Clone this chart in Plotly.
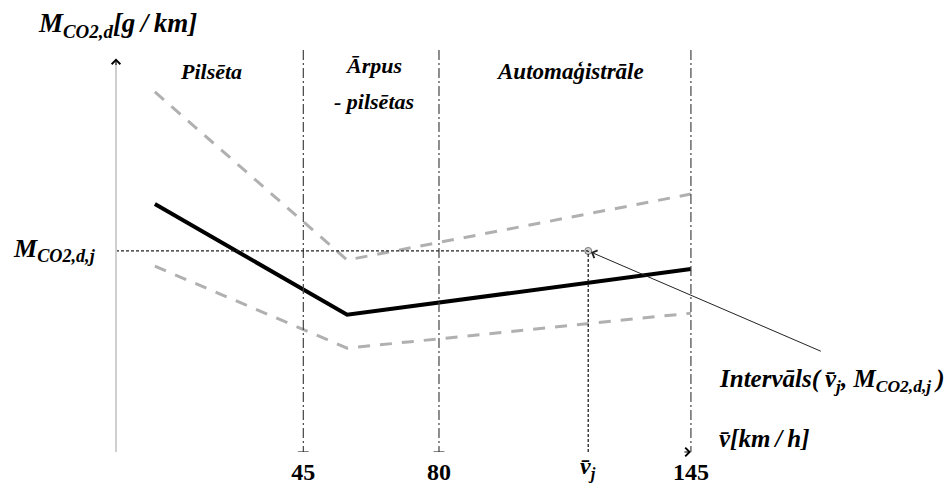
import plotly.graph_objects as go

# --- schematic data -------------------------------------------------------
# speed breakpoints [km/h] and emission levels [g/km, schematic units]
zone_bounds = [45, 80, 145]
speed_nodes = [6.7, 56.3, 145]
mean_curve = [60.2, 33.3, 44.4]
upper_curve = [87.4, 46.6, 62.6]
lower_curve = [45.1, 25.2, 33.7]

# interval point (v_j, M_CO2,d,j)
v_j = 118.5
m_j = 48.8

tick_vals = [45, 80, 145]
tick_text = ["<b>45</b>", "<b>80</b>", "<b>145</b>"]
v_j_label = "<b><i>v̄<sub>j</sub></i></b>"

zone_names = ["Pilsēta", "Ārpus", "- pilsētas", "Automaģistrāle"]

# --- layout geometry -------------------------------------------------------
W, H = 949, 486
L, R, T, B = 116, 229, 40, 34
X_RANGE = [-3.33, 152.5]
Y_RANGE = [0, 100]
FONT = "Liberation Serif"
TS = "\u2009"  # thin space


def px(xp, yp):
    """pixel position -> paper coordinates"""
    pw, ph = W - L - R, H - T - B
    return (xp - L) / pw, (H - B - yp) / ph


fig = go.Figure()

# envelope curves (grey dashed)
for curve in (upper_curve, lower_curve):
    fig.add_trace(go.Scatter(
        x=speed_nodes, y=curve, mode="lines",
        line=dict(color="#b0b0b0", width=3, dash="12px,10px"),
        hoverinfo="skip", showlegend=False))

# mean curve (solid black)
fig.add_trace(go.Scatter(
    x=speed_nodes, y=mean_curve, mode="lines",
    line=dict(color="black", width=4),
    hoverinfo="skip", showlegend=False))

# zone boundaries (dash-dot)
for vb in zone_bounds:
    fig.add_shape(type="line", x0=vb, x1=vb, y0=-1, y1=98, xref="x", yref="y",
                  line=dict(color="#444", width=1.2, dash="10px,3px,2px,3px"))

# small cross ticks at 45 and 80
for vb in zone_bounds[:2]:
    fig.add_shape(type="line", x0=vb - 1.4, x1=vb + 1.4, y0=0, y1=0,
                  xref="x", yref="y", line=dict(color="#333", width=1.2))

# reference lines to the interval point
fig.add_shape(type="line", x0=X_RANGE[0], x1=v_j, y0=m_j, y1=m_j,
              xref="x", yref="y",
              line=dict(color="#222", width=1.3, dash="3px,2px"))
fig.add_shape(type="line", x0=v_j, x1=v_j, y0=0, y1=m_j,
              xref="x", yref="y",
              line=dict(color="#222", width=1.3, dash="3px,2px"))
fig.add_trace(go.Scatter(
    x=[v_j], y=[m_j], mode="markers",
    marker=dict(size=7, color="#d0d0d0", line=dict(color="#777", width=1)),
    hoverinfo="skip", showlegend=False))

# vertical axis line (light grey) with arrow tip
fig.add_shape(type="line", x0=0, x1=0, y0=0, y1=0.94, xref="paper", yref="paper",
              line=dict(color="#cfcfcf", width=2))

annotations = []
# y axis arrow
annotations.append(dict(x=0, y=0.955, xref="paper", yref="paper",
                        ax=0, ay=8, showarrow=True, arrowhead=4, arrowsize=1.4,
                        arrowwidth=1.2, arrowcolor="black", text=""))
# x axis arrow at 145
annotations.append(dict(x=145, y=0, xref="x", yref="y", ax=-8, ay=0,
                        showarrow=True, arrowhead=4, arrowsize=1.4,
                        arrowwidth=1.2, arrowcolor="black", text=""))
# pointer to the interval point
annotations.append(dict(x=v_j, y=m_j, xref="x", yref="y",
                        ax=178.9, ay=24.3, axref="x", ayref="y",
                        showarrow=True, arrowhead=4, arrowsize=1.6,
                        arrowwidth=1, arrowcolor="#222", standoff=3, text=""))
# v_j label under its reference line
annotations.append(dict(x=v_j, y=px(0, 468)[1], xref="x", yref="paper",
                        text=v_j_label, showarrow=False,
                        xanchor="center", yanchor="middle",
                        font=dict(family=FONT, size=24, color="black")))


def label(text, xp, yp, size=21, xanchor="center", yanchor="middle"):
    x, y = px(xp, yp)
    annotations.append(dict(x=x, y=y, xref="paper", yref="paper", text=text,
                            showarrow=False, xanchor=xanchor, yanchor=yanchor,
                            font=dict(family=FONT, size=size, color="black")))


label(f"<b><i>M<sub>CO2,d</sub>[g{TS}/{TS}km]</i></b>", 36, 25, size=27, xanchor="left")
label(f"<b><i>{zone_names[0]}</i></b>", 211, 72, size=22)
label(f"<b><i>{zone_names[1]}</i></b>", 373, 66, size=22)
label(f"<b><i>{zone_names[2]}</i></b>", 374, 101, size=22)
label(f"<b><i>{zone_names[3]}</i></b>", 570, 72, size=23)
label("<b><i>M<sub>CO2,d,j</sub></i></b>", 98, 250, size=26, xanchor="right")
label(f"<b><i>Intervāls({TS}v̄<sub>j</sub>, M<sub>CO2,d,j</sub>{TS})</i></b>",
      717, 380, size=25, xanchor="left")
label(f"<b><i>v̄[km{TS}/{TS}h]</i></b>", 717, 438, size=25, xanchor="left")

fig.update_layout(
    width=W, height=H,
    margin=dict(l=L, r=R, t=T, b=B, autoexpand=False),
    paper_bgcolor="white", plot_bgcolor="white",
    showlegend=False, hovermode=False,
    annotations=annotations,
    xaxis=dict(range=X_RANGE, showgrid=False, zeroline=False, showline=False,
               tickvals=tick_vals, ticktext=tick_text, ticks="",
               ticklabelstandoff=3, automargin=False,
               tickfont=dict(family=FONT, size=24, color="black"),
               fixedrange=True),
    yaxis=dict(range=Y_RANGE, showgrid=False, zeroline=False, showline=False,
               showticklabels=False, automargin=False, fixedrange=True),
)

fig.write_html("out.html")
